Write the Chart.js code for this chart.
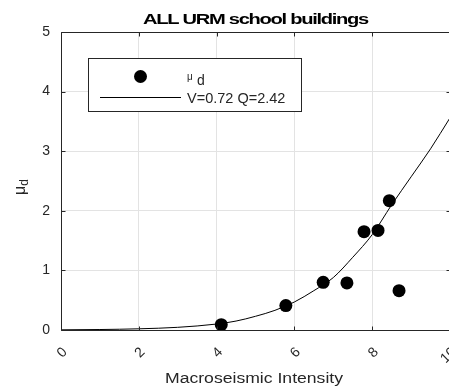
<!DOCTYPE html>
<html><head><meta charset="utf-8">
<script src="https://cdn.jsdelivr.net/npm/chart.js@4"></script>
<style>
html,body{margin:0;padding:0;background:#fff;overflow:hidden;width:449px;height:387px;}
#wrap{width:470px;height:387px;position:relative;}
canvas{display:block;}
</style></head><body>
<div id="wrap"><canvas id="c" width="470" height="387"></canvas></div>
<script>
// ---- data ----
const intensity = [4.12, 5.78, 6.74, 7.35, 7.79, 8.15, 8.44, 8.69];
const muD       = [0.09, 0.41, 0.80, 0.79, 1.65, 1.67, 2.17, 0.66];
const curveI    = [0, 1, 2, 3, 4, 4.5, 5, 5.5, 6, 6.5, 7, 7.5, 8, 8.5, 9, 9.5, 10];
const curveMu   = [0.003, 0.008, 0.02, 0.045, 0.10, 0.15, 0.23, 0.33, 0.47, 0.66, 0.88, 1.22, 1.60, 2.10, 2.57, 3.04, 3.56];
const xTicks    = [0, 2, 4, 6, 8, 10];
const yTicks    = [0, 1, 2, 3, 4, 5];
const titleText = 'ALL URM school buildings';
const xTitle    = 'Macroseismic Intensity';
const yTitleMain = '\u03bc', yTitleSub = 'd';
const legendFit = 'V=0.72 Q=2.42';

const FONT = "'Liberation Sans', Arial, sans-serif";
const TXT = '#262626';

const decor = {
  id: 'decor',
  afterDraw(chart) {
    const {ctx, chartArea: a, scales: {x, y}} = chart;
    ctx.save();
    // axes box
    const L = Math.round(a.left) + 0.5, T = Math.round(a.top) + 0.5;
    const R = Math.round(a.right) + 0.5, B = Math.round(a.bottom) + 0.5;
    ctx.strokeStyle = TXT; ctx.lineWidth = 1;
    ctx.beginPath();
    ctx.rect(L, T, R - L, B - T);
    ctx.stroke();
    // inward ticks
    ctx.beginPath();
    xTicks.forEach(v => {
      const px = Math.round(x.getPixelForValue(v)) + 0.5;
      ctx.moveTo(px, B); ctx.lineTo(px, B - 4);
      ctx.moveTo(px, T); ctx.lineTo(px, T + 4);
    });
    yTicks.forEach(v => {
      const py = Math.round(y.getPixelForValue(v)) + 0.5;
      ctx.moveTo(L, py); ctx.lineTo(L + 4, py);
      ctx.moveTo(R, py); ctx.lineTo(R - 4, py);
    });
    ctx.stroke();

    // title (bold, condensed look)
    ctx.fillStyle = '#000';
    ctx.font = 'bold 15.5px ' + FONT;
    ctx.letterSpacing = '-1px';
    ctx.textAlign = 'center'; ctx.textBaseline = 'alphabetic';
    let w = ctx.measureText(titleText).width;
    ctx.save();
    ctx.translate((a.left + a.right) / 2, 23.5);
    ctx.scale(225 / w, 1);
    ctx.fillText(titleText, 0, 0);
    ctx.restore();
    ctx.letterSpacing = '0px';

    // x title
    ctx.fillStyle = TXT;
    ctx.font = '15.5px ' + FONT;
    w = ctx.measureText(xTitle).width;
    ctx.save();
    ctx.translate(254, 383);
    ctx.scale(178 / w, 1);
    ctx.fillText(xTitle, 0, 0);
    ctx.restore();

    // y title (mu with subscript d), rotated
    ctx.save();
    ctx.translate(25, (a.top + a.bottom) / 2 + 6);
    ctx.rotate(-Math.PI / 2);
    ctx.textAlign = 'left';
    ctx.font = '16px ' + FONT;
    const wm = ctx.measureText(yTitleMain).width;
    ctx.font = '12px ' + FONT;
    const wd = ctx.measureText(yTitleSub).width;
    const start = -(wm + wd) / 2;
    ctx.font = '16px ' + FONT;
    ctx.fillText(yTitleMain, start, 0);
    ctx.font = '12px ' + FONT;
    ctx.fillText(yTitleSub, start + wm, 3);
    ctx.restore();

    // legend
    ctx.fillStyle = '#fff';
    ctx.fillRect(88.5, 58.5, 213, 53);
    ctx.strokeStyle = TXT; ctx.lineWidth = 1;
    ctx.strokeRect(88.5, 58.5, 213, 53);
    ctx.fillStyle = '#000';
    ctx.beginPath(); ctx.arc(140.5, 76.5, 6.5, 0, Math.PI * 2); ctx.fill();
    ctx.strokeStyle = '#000';
    ctx.beginPath(); ctx.moveTo(100, 97.5); ctx.lineTo(181, 97.5); ctx.stroke();
    ctx.fillStyle = TXT;
    ctx.textAlign = 'left';
    ctx.font = '10px ' + FONT;
    ctx.fillText(yTitleMain, 187, 80);
    ctx.font = '14px ' + FONT;
    ctx.fillText(yTitleSub, 197, 85);
    ctx.font = '14.5px ' + FONT;
    ctx.fillText(legendFit, 187, 102.5);
    ctx.restore();
  }
};

new Chart(document.getElementById('c'), {
  type: 'scatter',
  data: {
    datasets: [
      {
        label: 'mu_d',
        data: intensity.map((v, i) => ({x: v, y: muD[i]})),
        pointRadius: 6.5, pointHoverRadius: 6.5,
        backgroundColor: '#000', borderColor: '#000', borderWidth: 0,
        showLine: false
      },
      {
        label: legendFit,
        data: curveI.map((v, i) => ({x: v, y: curveMu[i]})),
        showLine: true, pointRadius: 0, borderColor: '#000', borderWidth: 1,
        cubicInterpolationMode: 'monotone', fill: false
      }
    ]
  },
  options: {
    responsive: false, animation: false, devicePixelRatio: 1,
    layout: {padding: {top: 32, right: 20, left: 0, bottom: 0}},
    plugins: {legend: {display: false}, tooltip: {enabled: false}, title: {display: false}},
    scales: {
      x: {
        type: 'linear', min: 0, max: 10,
        afterBuildTicks: s => { s.ticks = xTicks.map(v => ({value: v})); },
        ticks: {minRotation: 45, maxRotation: 45, autoSkip: false, color: TXT,
                font: {family: FONT, size: 14}, padding: 14, labelOffset: 4},
        grid: {color: '#e3e3e3', drawTicks: false},
        border: {display: false},
        afterFit: s => { s.height = 57; s.paddingLeft = 0; s.paddingRight = 0; }
      },
      y: {
        type: 'linear', min: 0, max: 5,
        afterBuildTicks: s => { s.ticks = yTicks.map(v => ({value: v})); },
        ticks: {color: TXT, font: {family: FONT, size: 14}, padding: 11},
        grid: {color: '#e3e3e3', drawTicks: false},
        border: {display: false},
        afterFit: s => { s.width = 61; s.paddingTop = 0; s.paddingBottom = 0; }
      }
    }
  },
  plugins: [decor]
});
</script>
</body></html>
